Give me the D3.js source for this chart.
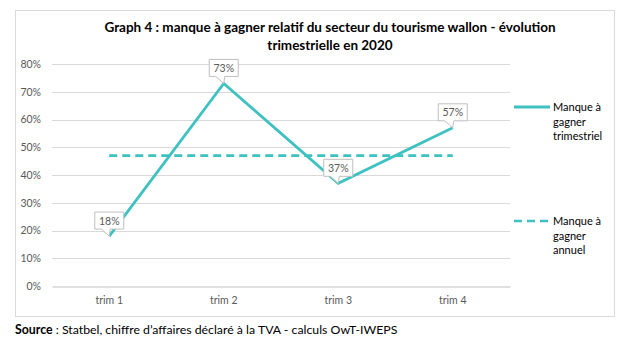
<html lang="fr">
<head>
<meta charset="UTF-8">
<title>Graph 4</title>
<script src="https://d3js.org/d3.v7.min.js"></script>
<style>
  body, html { margin: 0; padding: 0; background: #fff; }
  svg { display: block; font-family: Lato, "Open Sans", sans-serif; }
</style>
</head>
<body>
<div id="chart"></div>
<script>
  // data
  const categories = ["trim 1", "trim 2", "trim 3", "trim 4"];
  const trimValues = [0.18, 0.73, 0.37, 0.57];
  const annualValues = [0.47, 0.47, 0.47, 0.47];
  const yTicks = [0, 0.1, 0.2, 0.3, 0.4, 0.5, 0.6, 0.7, 0.8];
  const seriesNames = ["Manque à gagner trimestriel", "Manque à gagner annuel"];

  const W = 632, H = 353;
  const teal = "#3ec1c1";
  const grey = "#595959";

  const svg = d3.select("#chart").append("svg")
      .attr("width", W).attr("height", H);

  // chart frame
  svg.append("rect")
      .attr("x", 15.5).attr("y", 10.5)
      .attr("width", 599).attr("height", 306)
      .attr("fill", "#fff").attr("stroke", "#d9d9d9");

  // title
  const title = svg.append("text")
      .attr("text-anchor", "middle")
      .attr("font-weight", "bold")
      .attr("font-size", 13.5)
      .attr("fill", "#000");
  title.append("tspan").attr("x", 330).attr("y", 32)
      .text("Graph 4 : manque à gagner relatif du secteur du tourisme wallon - évolution");
  title.append("tspan").attr("x", 330).attr("y", 50)
      .text("trimestrielle en 2020");

  const x = d3.scaleBand().domain(categories).range([52, 510]);
  const cx = d => x(d) + x.bandwidth() / 2;
  const y = d3.scaleLinear().domain([0, 0.8]).range([286, 64]);

  // gridlines
  svg.append("g").selectAll("line")
      .data(yTicks.filter(t => t > 0))
      .join("line")
      .attr("x1", 52).attr("x2", 510)
      .attr("y1", d => Math.round(y(d)) + 0.5).attr("y2", d => Math.round(y(d)) + 0.5)
      .attr("stroke", "#d9d9d9");

  // y axis labels
  const yAxis = svg.append("g")
      .attr("transform", "translate(52,0)")
      .call(d3.axisLeft(y).tickValues(yTicks).tickFormat(d3.format(".0%")).tickSize(0).tickPadding(11));
  yAxis.select(".domain").remove();
  yAxis.selectAll("text")
      .attr("font-family", "Lato, sans-serif")
      .attr("font-size", 10.5).attr("fill", grey);

  // x axis
  const xAxis = svg.append("g")
      .attr("transform", `translate(0,${Math.round(y(0)) + 0.5})`)
      .call(d3.axisBottom(x).tickSize(0).tickPadding(10));
  xAxis.select(".domain").attr("stroke", "#bfbfbf").attr("stroke-width", 1.2);
  xAxis.selectAll("text")
      .attr("font-family", "Lato, sans-serif")
      .attr("font-size", 10.5).attr("fill", grey);

  // annual dashed line
  svg.append("path")
      .datum(annualValues)
      .attr("d", d3.line().x((d, i) => cx(categories[i])).y(d => y(d)))
      .attr("fill", "none").attr("stroke", teal)
      .attr("stroke-width", 2.6).attr("stroke-dasharray", "8,5");

  // quarterly line
  svg.append("path")
      .datum(trimValues)
      .attr("d", d3.line().x((d, i) => cx(categories[i])).y(d => y(d)))
      .attr("fill", "none").attr("stroke", teal)
      .attr("stroke-width", 2.8).attr("stroke-linejoin", "miter");

  // callout labels
  const bw = 29, bh = 17, gap = 7;
  const callouts = svg.append("g").selectAll("g")
      .data(trimValues)
      .join("g")
      .attr("transform", (d, i) => `translate(${cx(categories[i])},${y(d)})`);
  callouts.append("path")
      .attr("d", () => {
        const l = -bw / 2, r = bw / 2, b = -gap, t = -gap - bh;
        return `M${l},${t}H${r}V${b}H${1}L0,0L${-8},${b}H${l}Z`;
      })
      .attr("fill", "#fff").attr("stroke", "#bfbfbf").attr("stroke-width", 1);
  callouts.append("text")
      .attr("text-anchor", "middle")
      .attr("y", -gap - bh / 2 + 4)
      .attr("font-size", 10.5).attr("fill", grey)
      .text(d => d3.format(".0%")(d));

  // legend
  const legend = svg.append("g");
  const legendY = [107, 221];
  seriesNames.forEach((name, i) => {
    legend.append("line")
        .attr("x1", 514).attr("x2", 550)
        .attr("y1", legendY[i]).attr("y2", legendY[i])
        .attr("stroke", teal).attr("stroke-width", i === 0 ? 2.8 : 2.6)
        .attr("stroke-dasharray", i === 0 ? null : "8,5");
    const words = ["Manque à", "gagner", name.split(" ").pop()];
    const t = legend.append("text").attr("font-size", 11).attr("fill", "#000");
    words.forEach((w, j) => {
      t.append("tspan").attr("x", 553).attr("y", legendY[i] + 4 + j * 14.5).text(w);
    });
  });

  // source
  const src = svg.append("text").attr("x", 15).attr("y", 334)
      .attr("font-size", 12.3).attr("fill", "#000");
  src.append("tspan").attr("font-weight", "bold").text("Source");
  src.append("tspan").text(" : Statbel, chiffre d’affaires déclaré à la TVA - calculs OwT-IWEPS");
</script>
</body>
</html>
